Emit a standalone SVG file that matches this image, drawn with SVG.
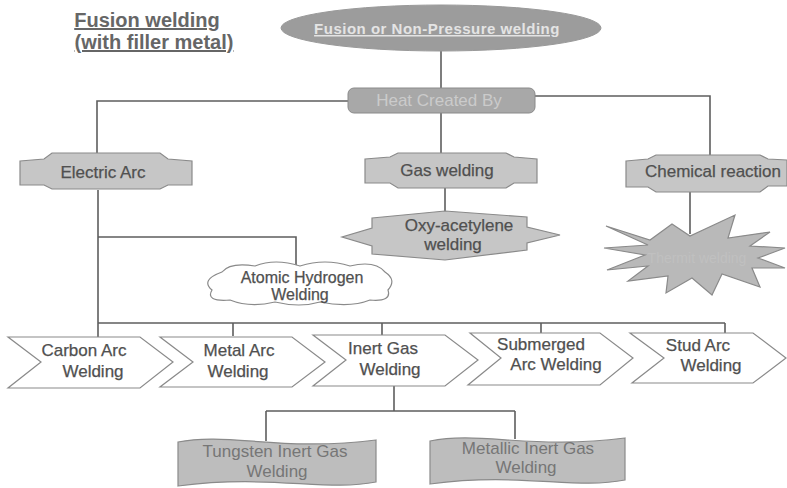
<svg xmlns="http://www.w3.org/2000/svg" width="787" height="488" viewBox="0 0 787 488">
<style>
text{font-family:"Liberation Sans",Arial,sans-serif;text-anchor:middle}
.ln{fill:none;stroke:#5e5e5e;stroke-width:1.6}
.gbox{fill:#c6c6c6;stroke:#8a8a8a;stroke-width:1.2}
.wbox{fill:#ffffff;stroke:#8a8a8a;stroke-width:1.2}
.dk{fill:#505050;font-size:17px;stroke:#505050;stroke-width:0.25}
.lt{fill:#767676;font-size:17px}
</style>
<rect width="787" height="488" fill="#ffffff"/>
<g id="title">
<text x="147" y="27" style="font-size:20px;font-weight:bold;fill:#666;text-decoration:underline">Fusion welding</text>
<text x="154" y="49" style="font-size:20px;font-weight:bold;fill:#666;text-decoration:underline">(with filler metal)</text>
</g>
<g id="connectors">
<path class="ln" d="M441,50 V88"/>
<path class="ln" d="M348,101 H97 V154"/>
<path class="ln" d="M535,96 H710 V155"/>
<path class="ln" d="M441,113 V153"/>
<path class="ln" d="M445,188 V212"/>
<path class="ln" d="M690,192 V234"/>
<path class="ln" d="M98,190 V323"/>
<path class="ln" d="M98,237 H296 V266"/>
<path class="ln" d="M98,323 H725"/>
<path class="ln" d="M98,323 V337 M233,323 V336 M382,323 V336 M541,323 V334 M725,323 V334"/>
<path class="ln" d="M394,386 V411 M266,411 H515 M266,411 V441 M515,411 V439"/>
</g>
<g id="n-fusion">
<ellipse cx="441" cy="28" rx="160" ry="23" fill="#9c9c9c" stroke="#999"/>
<text x="437" y="34" style="font-size:15px;font-weight:bold;letter-spacing:0.5px;fill:#e4e4e4;text-decoration:underline">Fusion or Non-Pressure welding</text>
</g>
<g id="n-heat">
<rect x="348" y="88" width="187" height="25" rx="6" fill="#a8a8a8" stroke="#8a8a8a"/>
<text x="439" y="106" style="font-size:17px;fill:#cbcbcb">Heat Created By</text>
</g>
<g id="n-electric">
<path class="gbox" d="M20,161 L44,159 L52,153 L160,153 L168,159 L192,161 L192,185 L168,185 L160,189 L52,189 L44,185 L20,185 Z"/>
<text class="dk" x="103" y="178">Electric Arc</text>
</g>
<g id="n-gas">
<path class="gbox" d="M365,159 L390,157 L398,153 L506,153 L514,157 L537,159 L537,183 L514,183 L506,188 L398,188 L390,183 L365,183 Z"/>
<text class="dk" x="447" y="176">Gas welding</text>
</g>
<g id="n-chemical">
<path class="gbox" d="M626,161 L648,159 L656,155 L760,155 L768,159 L787,160 L787,186 L768,186 L760,192 L656,192 L648,187 L626,187 Z"/>
<text class="dk" x="713" y="177">Chemical reaction</text>
</g>
<g id="n-oxy">
<path class="gbox" d="M372,218 L445,211 L527,217 L527,227 L560,235 L527,243 L527,250 L445,260 L372,254 L372,246 L342,237 L372,228 Z"/>
<text class="dk" x="459" y="231">Oxy-acetylene</text>
<text class="dk" x="453" y="250">welding</text>
</g>
<g id="n-thermit">
<path fill="#b9b9b9" stroke="#8a8a8a" stroke-width="1.2" d="M606,226 L650,240 L672,224 L690,236 L735,215 L728,238 L770,232 L750,246 L785,248 L758,258 L785,268 L752,268 L760,287 L722,274 L712,295 L692,278 L666,293 L668,276 L628,281 L648,266 L607,270 L645,255 L604,248 L648,245 Z"/>
<text x="697" y="263" style="font-size:14px;fill:#c0c0c0">Thermit welding</text>
</g>
<g id="n-atomic">
<path class="wbox" d="M222,272 Q230,262 255,266 Q275,258 300,266 Q325,258 350,266 Q375,260 385,272 Q397,280 388,290 Q392,302 370,300 Q350,308 320,302 Q300,308 275,302 Q250,308 230,300 Q205,302 212,290 Q200,280 222,272 Z"/>
<text class="dk" x="302" y="283" style="font-size:16px">Atomic Hydrogen</text>
<text class="dk" x="300" y="300" style="font-size:16px">Welding</text>
</g>
<g id="n-carbon">
<path class="wbox" d="M8,337 L140,337 L173,362 L140,388 L8,388 L41,362 Z"/>
<text class="dk" x="84" y="356">Carbon Arc</text>
<text class="dk" x="93" y="377">Welding</text>
</g>
<g id="n-metal">
<path class="wbox" d="M160,337 L292,337 L325,362 L292,387 L160,387 L193,362 Z"/>
<text class="dk" x="239" y="356">Metal Arc</text>
<text class="dk" x="238" y="377">Welding</text>
</g>
<g id="n-inert">
<path class="wbox" d="M313,335 L445,335 L478,360 L445,386 L313,386 L346,360 Z"/>
<text class="dk" x="383" y="354">Inert Gas</text>
<text class="dk" x="390" y="375">Welding</text>
</g>
<g id="n-submerged">
<path class="wbox" d="M470,333 L600,333 L633,358 L600,385 L468,385 L501,358 Z"/>
<text class="dk" x="541" y="350">Submerged</text>
<text class="dk" x="556" y="370">Arc Welding</text>
</g>
<g id="n-stud">
<path class="wbox" d="M630,333 L753,333 L786,358 L753,383 L632,383 L664,358 Z"/>
<text class="dk" x="698" y="351">Stud Arc</text>
<text class="dk" x="711" y="371">Welding</text>
</g>
<g id="n-tig">
<path fill="#bdbdbd" stroke="#8a8a8a" stroke-width="1.2" d="M178,442 C228,432 282,452 376,440 L376,482 C326,492 270,474 178,486 Z"/>
<text class="lt" x="275" y="457">Tungsten Inert Gas</text>
<text class="lt" x="277" y="477">Welding</text>
</g>
<g id="n-mig">
<path fill="#bdbdbd" stroke="#8a8a8a" stroke-width="1.2" d="M430,441 C480,431 534,450 625,438 L625,480 C575,490 520,472 430,484 Z"/>
<text class="lt" x="528" y="454">Metallic Inert Gas</text>
<text class="lt" x="526" y="473">Welding</text>
</g>
</svg>
